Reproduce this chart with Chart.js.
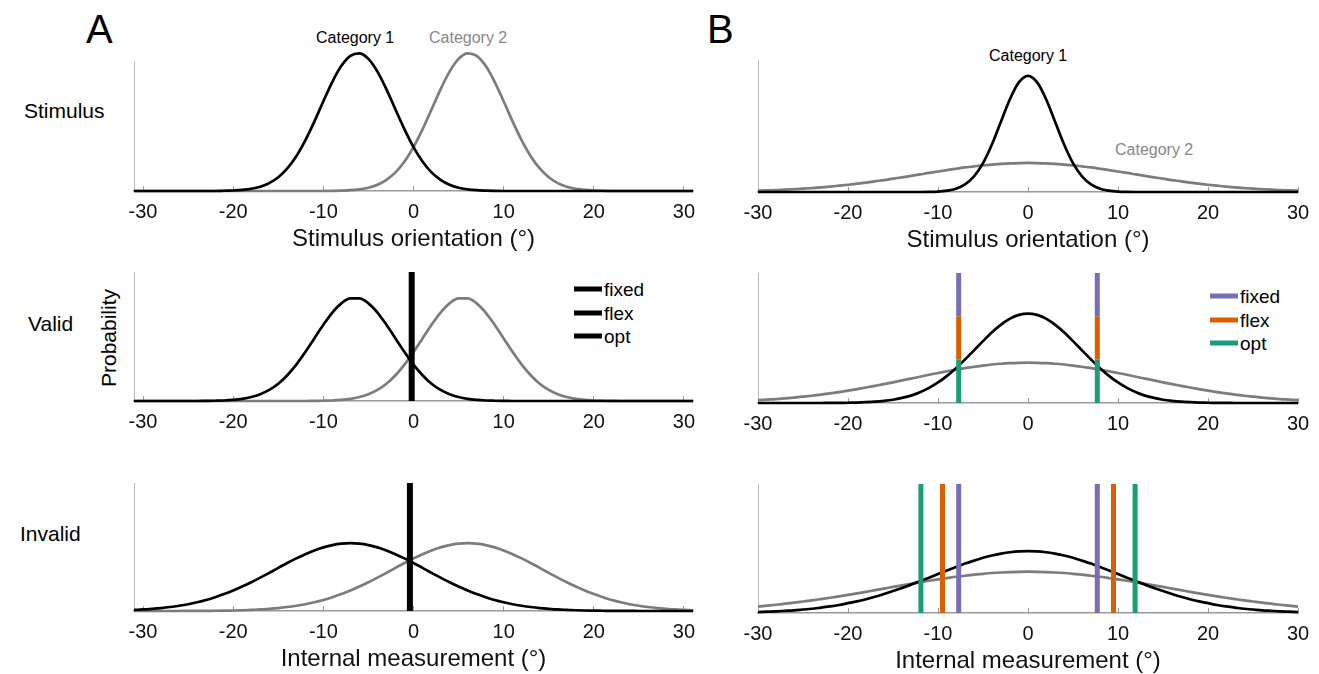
<!DOCTYPE html>
<html>
<head>
<meta charset="utf-8">
<script src="https://cdn.jsdelivr.net/npm/chart.js@4.4.0/dist/chart.umd.min.js"></script>
<style>
  body { margin: 0; background: #fff; width: 1319px; height: 674px; position: relative; overflow: hidden;
         font-family: "Liberation Sans", Arial, sans-serif; color: #000; }
  canvas { position: absolute; }
  .lbl { position: absolute; line-height: 1; white-space: nowrap; transform: translateY(-50%); }
  .sw { position: absolute; height: 5px; transform: translateY(-50%); }
</style>
</head>
<body>

<div class="lbl" style="left:86px;top:29px;font-size:40px;">A</div>
<div class="lbl" style="left:707px;top:29px;font-size:40px;">B</div>

<div class="lbl" style="left:316px;top:38px;font-size:16px;">Category 1</div>
<div class="lbl" style="left:429px;top:38px;font-size:16px;color:#888;">Category 2</div>
<div class="lbl" style="left:989px;top:56px;font-size:16px;">Category 1</div>
<div class="lbl" style="left:1115px;top:150px;font-size:16px;color:#888;">Category 2</div>

<div class="lbl" style="left:24px;top:110px;font-size:21px;">Stimulus</div>
<div class="lbl" style="left:28px;top:323px;font-size:21px;">Valid</div>
<div class="lbl" style="left:20px;top:533px;font-size:21px;">Invalid</div>
<div class="lbl" style="left:108px;top:338px;font-size:21px;transform:translate(-50%,-50%) rotate(-90deg);">Probability</div>

<div id="legendA"></div>
<div id="legendB"></div>

<canvas id="stimA"></canvas>
<canvas id="validA"></canvas>
<canvas id="invalidA"></canvas>
<canvas id="stimB"></canvas>
<canvas id="validB"></canvas>
<canvas id="invalidB"></canvas>

<script>
// --- Data ---
const xTicks = [-30, -20, -10, 0, 10, 20, 30];

const xA = [-31,-30,-29,-28,-27,-26,-25,-24,-23,-22,-21,-20,-19,-18,-17,-16,-15,-14,-13,-12,-11,-10,-9,-8,-7,-6,-5,-4,-3,-2,-1,
  0,1,2,3,4,5,6,7,8,9,10,11,12,13,14,15,16,17,18,19,20,21,22,23,24,25,26,27,28,29,30,31];
const xB = [-30,-29,-28,-27,-26,-25,-24,-23,-22,-21,-20,-19,-18,-17,-16,-15,-14,-13,-12,-11,-10,-9,-8,-7,-6,-5,-4,-3,-2,-1,
  0,1,2,3,4,5,6,7,8,9,10,11,12,13,14,15,16,17,18,19,20,21,22,23,24,25,26,27,28,29,30];

// task A (values as fraction of the axis height)
const stimA_cat1 = [0,0,0,0,0,0,0,0,0,0,
  0.002,0.004,0.008,0.017,0.033,0.061,0.106,0.174,0.268,0.390,0.534,0.690,0.840,0.963,1.040,1.059,1.016,0.918,0.782,0.627,0.474,
  0.338,0.227,0.143,0.086,0.048,0.025,0.013,0.006,0.003,0.001,
  0,0,0,0,0,0,0,0,0,0,0,0,0,0,0,0,0,0,0,0,0,0];
const stimA_cat2 = [0,0,0,0,0,0,0,0,0,0,0,0,0,0,0,0,0,0,0,0,0,0,
  0.001,0.003,0.006,0.013,0.025,0.048,0.086,0.143,0.227,0.338,0.474,0.627,0.782,0.918,1.016,1.059,1.040,0.963,0.840,0.690,
  0.534,0.390,0.268,0.174,0.106,0.061,0.033,0.017,0.008,0.004,0.002,
  0,0,0,0,0,0,0,0,0,0];

const validA_cat1 = [0,0,0,0,0,0,0,0,
  0.001,0.002,0.004,0.009,0.017,0.031,0.053,0.086,0.134,0.200,0.282,0.379,0.485,0.591,0.686,0.757,0.795,
  0.795,0.757,0.686,0.591,0.485,0.379,0.282,0.200,0.134,0.086,0.053,0.031,0.017,0.009,0.004,0.002,0.001,
  0,0,0,0,0,0,0,0,0,0,0,0,0,0,0,0,0,0,0,0,0];
const validA_cat2 = [0,0,0,0,0,0,0,0,0,0,0,0,0,0,0,0,0,0,0,0,
  0.001,0.002,0.004,0.009,0.017,0.031,0.053,0.086,0.134,0.200,0.282,0.379,0.485,0.591,0.686,0.757,0.795,
  0.795,0.757,0.686,0.591,0.485,0.379,0.282,0.200,0.134,0.086,0.053,0.031,0.017,0.009,0.004,0.002,0.001,
  0,0,0,0,0,0,0,0,0];

const invalidA_cat1 = [0.009,0.012,0.017,0.023,0.031,0.041,0.053,0.068,0.086,0.108,0.132,0.160,0.191,0.225,0.261,0.298,
  0.337,0.375,0.411,0.444,0.473,0.497,0.515,0.526,0.530,0.526,0.515,0.497,0.473,0.444,0.411,0.375,0.337,0.298,0.261,
  0.225,0.191,0.160,0.132,0.108,0.086,0.068,0.053,0.041,0.031,0.023,0.017,0.012,0.009,0.006,0.004,0.003,0.002,0.001,
  0.001,0.001,0,0,0,0,0,0,0];
const invalidA_cat2 = [0,0,0,0,0,0,
  0.001,0.001,0.001,0.002,0.003,0.004,0.006,0.009,0.012,0.017,0.023,0.031,0.041,0.053,0.068,0.086,0.108,0.132,0.160,
  0.191,0.225,0.261,0.298,0.337,0.375,0.411,0.444,0.473,0.497,0.515,0.526,0.530,0.526,0.515,0.497,0.473,0.444,0.411,
  0.375,0.337,0.298,0.261,0.225,0.191,0.160,0.132,0.108,0.086,0.068,0.053,0.041,0.031,0.023,0.017,0.012,0.009,0.006];

const boundA_valid = -0.2;
const boundA_invalid = -0.4;

// task B
const stimB_cat1 = [0,0,0,0,0,0,0,0,0,0,0,0,0,0,0,0,0,0,0,
  0.001,0.003,0.010,0.025,0.058,0.119,0.219,0.362,0.534,0.705,0.832,0.880,0.832,0.705,0.534,0.362,0.219,0.119,0.058,0.025,0.010,0.003,0.001,
  0,0,0,0,0,0,0,0,0,0,0,0,0,0,0,0,0,0,0];
const stimB_cat2 = [0.010,0.012,0.014,0.018,0.021,0.025,0.030,0.035,0.041,0.048,0.055,0.063,0.071,0.081,0.090,0.101,
  0.111,0.122,0.133,0.145,0.155,0.166,0.176,0.186,0.194,0.202,0.208,0.213,0.217,0.219,0.220,0.219,0.217,0.213,0.208,
  0.202,0.194,0.186,0.176,0.166,0.155,0.145,0.133,0.122,0.111,0.101,0.090,0.081,0.071,0.063,0.055,0.048,0.041,0.035,
  0.030,0.025,0.021,0.018,0.014,0.012,0.010];

const validB_cat1 = [0,0,0,0,0,0,0,0,
  0.001,0.001,0.002,0.003,0.006,0.010,0.016,0.025,0.039,0.057,0.083,0.116,0.158,0.209,0.268,0.335,0.405,0.476,0.544,
  0.603,0.649,0.678,0.688,0.678,0.649,0.603,0.544,0.476,0.405,0.335,0.268,0.209,0.158,0.116,0.083,0.057,0.039,0.025,
  0.016,0.010,0.006,0.003,0.002,0.001,0.001,0,0,0,0,0,0,0,0];
const validB_cat2 = [0.022,0.026,0.030,0.036,0.042,0.049,0.056,0.065,0.074,0.084,0.095,0.107,0.119,0.132,0.145,0.159,
  0.174,0.188,0.202,0.217,0.231,0.244,0.257,0.268,0.279,0.288,0.296,0.302,0.306,0.309,0.310,0.309,0.306,0.302,0.296,
  0.288,0.279,0.268,0.257,0.244,0.231,0.217,0.202,0.188,0.174,0.159,0.145,0.132,0.119,0.107,0.095,0.084,0.074,0.065,
  0.056,0.049,0.042,0.036,0.030,0.026,0.022];

const invalidB_cat1 = [0.007,0.010,0.013,0.017,0.021,0.027,0.033,0.042,0.051,0.062,0.076,0.090,0.107,0.126,0.147,0.170,
  0.194,0.220,0.247,0.274,0.302,0.330,0.357,0.383,0.406,0.428,0.446,0.460,0.471,0.478,0.480,0.478,0.471,0.460,0.446,
  0.428,0.406,0.383,0.357,0.330,0.302,0.274,0.247,0.220,0.194,0.170,0.147,0.126,0.107,0.090,0.076,0.062,0.051,0.042,
  0.033,0.027,0.021,0.017,0.013,0.010,0.007];
const invalidB_cat2 = [0.050,0.057,0.064,0.072,0.080,0.089,0.098,0.108,0.118,0.129,0.141,0.152,0.164,0.177,0.189,0.202,
  0.214,0.226,0.238,0.250,0.261,0.271,0.281,0.289,0.297,0.304,0.310,0.314,0.317,0.319,0.320,0.319,0.317,0.314,0.310,
  0.304,0.297,0.289,0.281,0.271,0.261,0.250,0.238,0.226,0.214,0.202,0.189,0.177,0.164,0.152,0.141,0.129,0.118,0.108,
  0.098,0.089,0.080,0.072,0.064,0.057,0.050];

const modelNames = ['fixed', 'flex', 'opt'];
const modelColors = ['#7570b3', '#d95f02', '#1b9e77'];
const boundB_valid = [7.7, 7.7, 7.7];
const boundB_invalid = [7.7, 9.5, 11.9];
const validSegments = [[0.667, 1.0], [0.333, 0.667], [0, 0.333]]; // fixed, flex, opt stacked on the same line

// --- Helpers ---
const FONT = '"Liberation Sans", Arial, sans-serif';
const BLACK = '#000';
const GREY = '#7c7c7c';

function curve(xs, ys, color) {
  return {
    data: xs.map((x, i) => ({ x, y: ys[i] })),
    borderColor: color, borderWidth: 2.7, pointRadius: 0,
    cubicInterpolationMode: 'monotone', clip: false
  };
}

function vline(x, y0, y1, color, width) {
  return {
    data: [{ x, y: y0 }, { x, y: y1 }],
    borderColor: color, borderWidth: width, borderCapStyle: 'butt',
    pointRadius: 0, clip: false
  };
}

function makePanel(id, box, xMin, xMax, datasets, title) {
  const el = document.getElementById(id);
  const padX = 30, padTop = 20;
  const axisH = title ? 63 : 36;
  el.style.left = (box.l - padX) + 'px';
  el.style.top = (box.t - padTop) + 'px';
  el.width = box.r - box.l + 2 * padX;
  el.height = box.b - box.t + padTop + axisH;

  return new Chart(el, {
    type: 'line',
    data: { datasets },
    options: {
      responsive: false, animation: false, events: [],
      layout: { padding: { left: padX, right: padX, top: padTop, bottom: 0 } },
      plugins: { legend: { display: false }, tooltip: { enabled: false } },
      scales: {
        x: {
          type: 'linear', min: xMin, max: xMax,
          afterBuildTicks: s => { s.ticks = xTicks.map(v => ({ value: v })); },
          afterFit: s => { s.height = axisH; s.paddingLeft = 0; s.paddingRight = 0; },
          grid: { drawOnChartArea: false, drawTicks: true, tickLength: -5, color: '#9a9a9a', lineWidth: 1 },
          border: { color: '#9a9a9a', width: 1.5 },
          ticks: { color: '#111', font: { family: FONT, size: 20 }, padding: 14, maxRotation: 0, minRotation: 0, autoSkip: false },
          title: { display: !!title, text: title || '', color: '#111', font: { family: FONT, size: 24 }, padding: 0 }
        },
        y: {
          min: 0, max: 1,
          afterFit: s => { s.width = 0; },
          grid: { display: false },
          ticks: { display: false },
          border: { color: '#b8b8b8', width: 1 }
        }
      }
    }
  });
}

// --- Legends (HTML) ---
function buildLegend(id, left, tops, colors) {
  const host = document.getElementById(id);
  modelNames.forEach((name, i) => {
    const sw = document.createElement('div');
    sw.className = 'sw';
    sw.style.cssText = `left:${left}px;top:${tops[i]}px;width:28px;background:${colors[i]};`;
    host.appendChild(sw);
    const t = document.createElement('div');
    t.className = 'lbl';
    t.style.cssText = `left:${left + 30}px;top:${tops[i]}px;font-size:19px;`;
    t.textContent = name;
    host.appendChild(t);
  });
}
buildLegend('legendA', 574, [289, 312.5, 336], [BLACK, BLACK, BLACK]);
buildLegend('legendB', 1210, [296, 319.5, 343], modelColors);

// --- Panels ---
const colA = { l: 134, r: 693 };
const colB = { l: 758, r: 1298 };

makePanel('stimA', { ...colA, t: 61, b: 191 }, -31, 31, [
  curve(xA, stimA_cat1, BLACK),
  curve(xA, stimA_cat2, GREY)
], 'Stimulus orientation (°)');

makePanel('validA', { ...colA, t: 272, b: 401 }, -31, 31, [
  vline(boundA_valid, 0, 1, BLACK, 6),
  curve(xA, validA_cat1, BLACK),
  curve(xA, validA_cat2, GREY)
], null);

makePanel('invalidA', { ...colA, t: 483, b: 611 }, -31, 31, [
  vline(boundA_invalid, 0, 1, BLACK, 6),
  curve(xA, invalidA_cat1, BLACK),
  curve(xA, invalidA_cat2, GREY)
], 'Internal measurement (°)');

makePanel('stimB', { ...colB, t: 60, b: 192 }, -30, 30, [
  curve(xB, stimB_cat1, BLACK),
  curve(xB, stimB_cat2, GREY)
], 'Stimulus orientation (°)');

const validBLines = [];
modelNames.forEach((name, i) => {
  const [y0, y1] = validSegments[i];
  validBLines.push(vline(-boundB_valid[i], y0, y1, modelColors[i], 5));
  validBLines.push(vline(boundB_valid[i], y0, y1, modelColors[i], 5));
});
makePanel('validB', { ...colB, t: 273, b: 403 }, -30, 30, [
  ...validBLines,
  curve(xB, validB_cat1, BLACK),
  curve(xB, validB_cat2, GREY)
], null);

const invalidBLines = [];
modelNames.forEach((name, i) => {
  invalidBLines.push(vline(-boundB_invalid[i], 0, 1, modelColors[i], 5));
  invalidBLines.push(vline(boundB_invalid[i], 0, 1, modelColors[i], 5));
});
makePanel('invalidB', { ...colB, t: 484, b: 613 }, -30, 30, [
  ...invalidBLines,
  curve(xB, invalidB_cat1, BLACK),
  curve(xB, invalidB_cat2, GREY)
], 'Internal measurement (°)');
</script>
</body>
</html>
